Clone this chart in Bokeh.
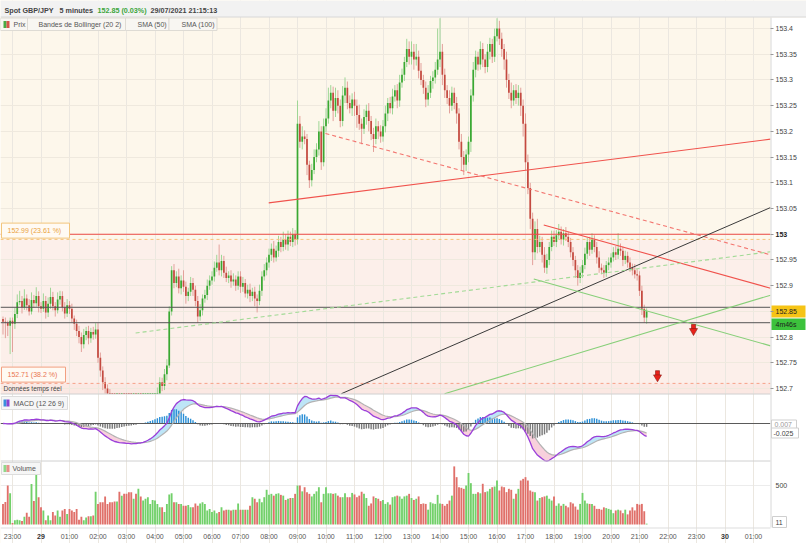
import numpy as np
import pandas as pd
from bokeh.plotting import figure
from bokeh.models import Range1d, FixedTicker
from bokeh.core.properties import value
from bokeh.embed import file_html
from bokeh.resources import INLINE

# ------------------------------------------------------------------ data
TITLE_PARTS = ["Spot GBP/JPY", "5 minutes", "152.85 (0.03%)", "29/07/2021 21:15:13"]
PRICE_LEGEND = ["Prix", "Bandes de Bollinger (20 2)", "SMA (50)", "SMA (100)"]
MACD_LEGEND = "MACD (12 26 9)"
VOLUME_LEGEND = "Volume"
REALTIME_NOTE = "Données temps réel"
COUNTDOWN = "4m46s"
MACD_VALUE_TEXTS = ["0.007", "-0.025"]

FIRST_BAR_HOUR = -1 / 3      # 22:40 on 28/07, in hours after 23:00
BAR_HOURS = 5 / 60
OPEN_FIRST = 152.835

CLOSES = [
    152.830, 152.828, 152.822, 152.832,
    152.826, 152.845, 152.868, 152.870, 152.858, 152.875, 152.862, 152.850, 152.872, 152.866, 152.880, 152.860,
    152.855, 152.870, 152.848, 152.865, 152.878, 152.860, 152.852, 152.873, 152.880, 152.858, 152.846, 152.862,
    152.855, 152.836, 152.826, 152.812, 152.800, 152.786, 152.804, 152.812, 152.798, 152.810, 152.805, 152.815,
    152.760, 152.735, 152.712, 152.700, 152.690, 152.678, 152.668, 152.660, 152.665, 152.650, 152.655, 152.645,
    152.635, 152.628, 152.615, 152.622, 152.610, 152.618, 152.605, 152.612, 152.620, 152.628, 152.635, 152.648,
    152.665, 152.690, 152.712, 152.705, 152.728, 152.745, 152.850, 152.930, 152.905, 152.918, 152.895, 152.910,
    152.898, 152.880, 152.888, 152.905, 152.892, 152.870, 152.840, 152.852, 152.875, 152.882, 152.900, 152.910,
    152.918, 152.935, 152.945, 152.930, 152.948, 152.925, 152.915, 152.920, 152.908, 152.912, 152.900, 152.918,
    152.898, 152.905, 152.885, 152.892, 152.880, 152.888, 152.875, 152.870, 152.890, 152.918, 152.930, 152.945,
    152.960, 152.972, 152.955, 152.968, 152.985, 152.975, 152.990, 152.980, 152.995, 152.985, 153.000, 152.990,
    153.215, 153.180, 153.190, 153.185, 153.135, 153.105, 153.125, 153.150, 153.165, 153.200, 153.140, 153.210,
    153.225, 153.260, 153.275, 153.240, 153.265, 153.250, 153.220, 153.270, 153.285, 153.255, 153.245, 153.262,
    153.250, 153.232, 153.215, 153.205, 153.228, 153.240, 153.220, 153.195, 153.185, 153.210, 153.200, 153.190,
    153.210, 153.235, 153.255, 153.245, 153.268, 153.280, 153.260, 153.295, 153.310, 153.335, 153.360, 153.345,
    153.355, 153.340, 153.345, 153.318, 153.300, 153.285, 153.262, 153.275, 153.298, 153.305, 153.320, 153.340,
    153.355, 153.310, 153.280, 153.265, 153.250, 153.275, 153.255, 153.235, 153.180, 153.150, 153.135, 153.155,
    153.180, 153.270, 153.320, 153.345, 153.330, 153.360, 153.340, 153.325, 153.355, 153.370, 153.345, 153.385,
    153.400, 153.380, 153.360, 153.340, 153.300, 153.275, 153.260, 153.280, 153.265, 153.275, 153.250, 153.215,
    153.140, 153.090, 153.030, 152.965, 153.010, 152.975, 152.985, 152.960, 152.935, 152.950, 152.975, 152.995,
    152.985, 152.998, 153.005, 152.990, 153.002, 152.995, 152.985, 152.965, 152.950, 152.930, 152.915, 152.925,
    152.940, 152.962, 152.985, 152.970, 152.990, 152.975, 152.955, 152.935, 152.930, 152.925, 152.940, 152.945,
    152.955, 152.965, 152.960, 152.972, 152.968, 152.950, 152.958, 152.945, 152.935, 152.930, 152.922, 152.920,
    152.890, 152.855, 152.838, 152.850,
]

# wick lengths above / below the candle body, in thousandths of a yen
WICK_UP = [
    5, 8, 4, 6,
    6, 12, 15, 20, 10, 18, 8, 12, 15, 10, 17, 9,
    8, 15, 10, 12, 18, 10, 8, 14, 10, 9, 10, 12,
    8, 10, 6, 8, 10, 9, 12, 8, 10, 8, 10, 12,
    12, 10, 8, 10, 8, 9, 10, 8, 10, 8, 9, 10,
    10, 8, 9, 10, 8, 10, 9, 8, 10, 9, 8, 10,
    8, 12, 10, 9, 10, 12, 10, 8, 12, 10, 15, 10,
    20, 10, 8, 12, 10, 8, 10, 12, 8, 10, 12, 10,
    10, 12, 15, 35, 12, 10, 12, 8, 10, 12, 8, 10,
    10, 12, 8, 10, 12, 8, 10, 8, 12, 10, 12, 10,
    12, 10, 15, 10, 12, 10, 15, 10, 12, 10, 12, 8,
    45, 15, 20, 12, 10, 8, 12, 15, 12, 20, 10, 15,
    20, 25, 15, 12, 20, 15, 12, 18, 20, 12, 15, 12,
    15, 12, 20, 10, 15, 12, 15, 10, 12, 15, 10, 12,
    12, 15, 10, 12, 15, 10, 12, 15, 12, 10, 20, 15,
    20, 15, 25, 12, 15, 10, 12, 15, 10, 12, 15, 60,
    65, 15, 12, 10, 15, 12, 10, 12, 10, 15, 12, 10,
    10, 12, 15, 12, 10, 15, 12, 10, 15, 12, 10, 15,
    20, 15, 12, 10, 15, 12, 20, 10, 12, 15, 10, 12,
    20, 15, 10, 12, 15, 20, 12, 10, 15, 12, 10, 12,
    12, 10, 15, 10, 8, 12, 10, 8, 10, 8, 10, 12,
    10, 12, 8, 10, 12, 8, 10, 12, 8, 10, 8, 10,
    8, 10, 12, 30, 10, 8, 10, 8, 10, 8, 12, 10,
    8, 10, 8, 6,
]
WICK_DN = [
    25, 30, 20, 55,
    55, 10, 8, 6, 12, 5, 10, 8, 6, 9, 7, 12,
    8, 6, 12, 9, 10, 8, 12, 6, 10, 8, 10, 7,
    10, 8, 12, 10, 12, 15, 8, 10, 12, 9, 10, 8,
    10, 12, 15, 10, 12, 10, 8, 10, 12, 10, 8, 9,
    9, 10, 8, 10, 12, 9, 10, 8, 9, 10, 8, 10,
    10, 8, 12, 10, 8, 12, 5, 8, 10, 8, 10, 12,
    10, 15, 10, 8, 12, 10, 12, 8, 10, 8, 10, 8,
    8, 10, 8, 10, 12, 10, 8, 10, 12, 8, 10, 8,
    12, 10, 8, 10, 12, 10, 15, 22, 8, 10, 8, 10,
    10, 12, 10, 8, 12, 10, 8, 10, 12, 8, 10, 12,
    10, 12, 15, 10, 20, 15, 12, 8, 10, 12, 15, 8,
    12, 10, 15, 20, 12, 15, 12, 10, 15, 12, 10, 15,
    20, 25, 12, 30, 10, 15, 20, 12, 25, 10, 15, 12,
    10, 12, 15, 10, 12, 10, 15, 12, 10, 12, 10, 15,
    15, 20, 12, 15, 10, 12, 15, 12, 10, 15, 12, 10,
    15, 20, 15, 12, 15, 10, 12, 20, 15, 25, 20, 12,
    15, 20, 12, 15, 12, 10, 15, 12, 10, 15, 12, 10,
    10, 12, 15, 20, 15, 12, 15, 10, 12, 15, 20, 25,
    15, 12, 20, 25, 15, 12, 10, 15, 10, 12, 10, 8,
    8, 10, 8, 10, 12, 8, 10, 10, 12, 15, 15, 10,
    10, 8, 10, 12, 8, 10, 12, 10, 8, 10, 8, 10,
    10, 8, 10, 8, 10, 12, 8, 10, 8, 10, 8, 10,
    10, 12, 10, 12,
]

VOLUMES = [
    264, 290, 500, 400, 20, 55, 60, 55, 45, 100, 150, 100,
    520, 300, 650, 350, 220, 180, 55, 115, 55, 160, 115, 180,
    100, 180, 200, 136, 200, 180, 160, 200, 60, 100, 55, 90,
    105, 105, 115, 420, 264, 285, 285, 360, 264, 285, 285, 295,
    295, 420, 370, 393, 393, 415, 415, 330, 393, 457, 360, 307,
    330, 350, 264, 315,
    307, 264, 220, 220, 160, 264, 385, 400, 285, 285,
    264, 264, 240, 240, 250, 220, 220, 270, 240, 270,
    285, 264, 180, 200, 160, 180, 145, 160, 220, 180,
    190, 190, 180, 190, 190, 270, 190, 190, 190, 190,
    240, 350, 330, 285, 330, 285, 350, 445, 380, 393,
    370, 393, 400, 380, 370, 315, 330, 340, 340, 393,
    500, 500, 425, 478, 415, 393, 360, 393, 425, 478,
    285, 393, 478, 400, 400, 393, 400, 370, 350, 350,
    400, 350, 350, 405, 385, 350, 370, 420, 393, 340,
    240, 270, 360, 340, 330, 300, 315, 264, 285, 255,
    350, 360, 370, 360,
    330, 360, 370, 393, 340, 315, 330, 360, 264, 270, 264, 190,
    285, 270, 264, 380, 270, 264, 240, 264, 307, 370,
    745, 607, 478, 470, 457, 500, 660, 530, 393, 393, 415, 400,
    522, 415, 425, 457, 478, 487,
    564, 436, 487, 478, 415, 457, 445, 330, 393, 457, 564, 585,
    607, 564, 436, 420, 415, 307, 340, 350, 360, 370, 330, 307,
    360, 240, 270, 240, 264, 240, 220, 285, 270, 230, 190, 264,
    405, 307, 270, 264, 264, 240, 200, 200, 190, 220, 210, 200,
    190, 145, 180, 190, 180, 145, 190, 130, 180, 220, 180, 264,
    255, 264, 170, 11,
]

HOUR_TICKS = list(range(27))
HOUR_LABELS = ["23:00", "29", "01:00", "02:00", "03:00", "04:00", "05:00", "06:00", "07:00",
               "08:00", "09:00", "10:00", "11:00", "12:00", "13:00", "14:00", "15:00", "16:00",
               "17:00", "18:00", "19:00", "20:00", "21:00", "22:00", "23:00", "30", "01:00"]
DAY_LABELS = ["29", "30"]
PRICE_TICKS = [152.7, 152.75, 152.8, 152.85, 152.9, 152.95, 153.0, 153.05,
               153.1, 153.15, 153.2, 153.25, 153.3, 153.35, 153.4]
BOLD_PRICE = 153.0
VOLUME_TICK = 500

FIB_LEVELS = [152.99, 152.71]
FIB_PCTS = ["23.61 %", "38.2 %"]
RESISTANCE = 153.00
SUPPORTS = [152.858, 152.828]

# trend lines: start (hour, price) -> end (hour, price)
RED_X0 = [8.99, 18.64]
RED_Y0 = [153.061, 153.018]
RED_X1 = [26.6, 26.6]
RED_Y1 = [153.185, 152.895]
RED_DASH_X = [10.98, 26.6]
RED_DASH_Y = [153.196, 152.960]
BLACK_X = [11.54, 26.6]
BLACK_Y = [152.690, 153.052]
GREEN_X0 = [18.29, 15.16]
GREEN_Y0 = [152.913, 152.690]
GREEN_X1 = [26.6, 26.6]
GREEN_Y1 = [152.783, 152.8815]
GREEN_DASH_X = [4.32, 26.6]
GREEN_DASH_Y = [152.808, 152.966]
ARROW_X = [23.895, 22.632]
ARROW_Y = [152.815, 152.725]

# ------------------------------------------------------------------ layout
W, H = 806, 543
PLOT_R, PLOT_B = 770, 527          # right edge of the panes, bottom of the volume pane
X_ORIGIN = 12.0
PX_PER_HOUR = 28.5
PRICE_REF, PRICE_REF_Y, PX_PER_YEN = 152.85, 310.9, 514.3
PANE_TOP, PRICE_BOTTOM, MACD_BOTTOM = 17.0, 393.5, 460.5
MACD_ZERO_Y, MACD_PX = 423.0, 400.0
VOL_ZERO_Y, VOL_PX = 524.0, 0.078
FONT = "Liberation Sans"


def price_at(y):
    return PRICE_REF - (y - PRICE_REF_Y) / PX_PER_YEN


def px(v):
    return v / PX_PER_YEN


n = len(CLOSES)
assert len(WICK_UP) == n and len(WICK_DN) == n and len(VOLUMES) == n

xs = np.array([FIRST_BAR_HOUR + i * BAR_HOURS for i in range(n)])
closes = np.array(CLOSES)
opens = np.concatenate([[OPEN_FIRST], closes[:-1]])
highs = np.maximum(opens, closes) + np.array(WICK_UP) / 1000.0
lows = np.minimum(opens, closes) - np.array(WICK_DN) / 1000.0
rising = closes >= opens

p = figure(width=W, height=H,
           x_range=Range1d(-X_ORIGIN / PX_PER_HOUR, (W - X_ORIGIN) / PX_PER_HOUR),
           y_range=Range1d(price_at(H), price_at(0)),
           output_backend="svg", toolbar_location=None, y_axis_location="right",
           min_border=0, min_border_left=0, min_border_top=0, min_border_right=0, min_border_bottom=0,
           background_fill_color="#fdf7eb", border_fill_color="white", outline_line_color=None)
p.extra_x_ranges = {"px": Range1d(0, W)}
p.extra_y_ranges = {
    "px": Range1d(H, 0),
    "macd": Range1d(-(H - MACD_ZERO_Y) / MACD_PX, MACD_ZERO_Y / MACD_PX),
    "vol": Range1d(-(H - VOL_ZERO_Y) / VOL_PX, VOL_ZERO_Y / VOL_PX),
}
PXR = dict(x_range_name="px", y_range_name="px")

# axes, drawn inside the canvas at the pane edges
xa = p.xaxis[0]
xa.fixed_location = price_at(PLOT_B)
xa.ticker = FixedTicker(ticks=HOUR_TICKS)
xa.major_label_overrides = {k: ("" if lab in DAY_LABELS else lab) for k, lab in zip(HOUR_TICKS, HOUR_LABELS)}
xa.major_label_text_font = FONT
xa.major_label_text_font_size = "7px"
xa.major_label_text_color = "#555555"
xa.major_tick_out = 0
xa.major_tick_in = 0
xa.minor_tick_out = 0
xa.minor_tick_in = 0
xa.major_label_standoff = 5
xa.axis_line_color = None

ya = p.yaxis[0]
ya.fixed_location = (PLOT_R - X_ORIGIN) / PX_PER_HOUR
ya.ticker = FixedTicker(ticks=PRICE_TICKS)
ya.major_label_overrides = {t: ("" if t in (BOLD_PRICE, CLOSES[-1]) else f"{t:.2f}".rstrip("0").rstrip("."))
                            for t in PRICE_TICKS}
ya.major_label_text_font = FONT
ya.major_label_text_font_size = "7px"
ya.major_label_text_color = "#444444"
ya.major_tick_out = 3
ya.major_tick_in = 0
ya.minor_tick_out = 0
ya.minor_tick_in = 0
ya.major_tick_line_color = "#999999"
ya.major_label_standoff = 2
ya.axis_line_color = None

p.xgrid.ticker = FixedTicker(ticks=HOUR_TICKS)
p.xgrid.grid_line_color = "#ebe7e0"
p.ygrid.ticker = FixedTicker(ticks=PRICE_TICKS)
p.ygrid.grid_line_color = "#efe9de"

# pane backgrounds
p.quad(left=[0], right=[PLOT_R], bottom=[price_at(PRICE_BOTTOM)], top=[FIB_LEVELS[0]],
       x_range_name="px", fill_color="#fcefea", line_color=None, level="image")
p.quad(left=[0], right=[PLOT_R], bottom=[price_at(PRICE_BOTTOM)], top=[FIB_LEVELS[1]],
       x_range_name="px", fill_color="#fbe8e3", line_color=None, level="image")
p.quad(left=[0], right=[W], top=[PRICE_BOTTOM], bottom=[H], fill_color="white",
       line_color=None, level="image", **PXR)
p.segment(x0=[0], x1=[PLOT_R], y0=[VOLUME_TICK], y1=[VOLUME_TICK], x_range_name="px",
          y_range_name="vol", line_color="#ececec", line_width=1, level="underlay")

# candles
floor = price_at(PRICE_BOTTOM)
vis = highs > floor
wick_col = np.where(rising, "#9fd696", "#e3a19b")
body_col = np.where(rising, "#3aa832", "#c44a40")
body_top = np.maximum(opens, closes)
body_bot = np.maximum(np.minimum(opens, closes), floor)
body_top = np.maximum(body_top, body_bot + px(1.0))
p.segment(x0=xs[vis], y0=np.maximum(lows, floor)[vis], x1=xs[vis], y1=highs[vis],
          line_color=wick_col[vis], line_width=1)
bvis = body_top > floor
p.vbar(x=xs[bvis], width=BAR_HOURS * 0.72, top=body_top[bvis], bottom=body_bot[bvis],
       fill_color=body_col[bvis], line_color=None)

# horizontal levels
def hline(level, **kw):
    p.segment(x0=[0], x1=[PLOT_R], y0=[level], y1=[level], x_range_name="px", **kw)


hline(RESISTANCE, line_color="#ee4b45", line_width=1)
hline(FIB_LEVELS[0], line_color="#f7c27a", line_width=1, line_dash="3 3")
hline(FIB_LEVELS[1], line_color="#f6a188", line_width=1, line_dash="3 3")
for s in SUPPORTS:
    hline(s, line_color="#555555", line_width=1)

# trend lines
p.segment(x0=RED_X0, y0=RED_Y0, x1=RED_X1, y1=RED_Y1, line_color="#f0524c", line_width=1.1)
p.line(x=RED_DASH_X, y=RED_DASH_Y, line_color="#f37670", line_width=1.1, line_dash="4 3")
p.line(x=BLACK_X, y=BLACK_Y, line_color="#3a3a3a", line_width=1)
p.segment(x0=GREEN_X0, y0=GREEN_Y0, x1=GREEN_X1, y1=GREEN_Y1, line_color="#86cf78", line_width=1.1)
p.line(x=GREEN_DASH_X, y=GREEN_DASH_Y, line_color="#a2da96", line_width=1.1, line_dash="4 3")

# arrows
p.rect(x=ARROW_X, y=[a + px(2.5) for a in ARROW_Y], width=4, height=5, width_units="screen",
       height_units="screen", fill_color="#e8221a", line_color="#8a1a12", line_width=0.6)
p.scatter(x=ARROW_X, y=[a - px(1.5) for a in ARROW_Y], marker="inverted_triangle", size=8,
          fill_color="#e8221a", line_color="#8a1a12", line_width=0.6)

# fib labels
for lvl, pct, border, tcol, wbox in zip(FIB_LEVELS, FIB_PCTS, ["#f2c57c", "#f2a080"],
                                          ["#eaa23e", "#ea7650"], [68, 64]):
    p.quad(left=[1], right=[1 + wbox], bottom=[lvl + px(1.3)], top=[lvl + px(16.3)],
           x_range_name="px", fill_color="#fffaf3", line_color=border, line_width=1)
    p.text(x=[7], y=[lvl + px(8.8)], text=[f"{lvl:.2f} ({pct})"], x_range_name="px",
           text_font=value(FONT), text_font_size="7px", text_color=tcol, text_baseline="middle")

p.text(x=[3], y=[387.5], text=[REALTIME_NOTE], text_font=value(FONT), text_font_size="6.5px",
       text_color="#444444", text_baseline="middle", **PXR)

# ---------------- MACD pane
cl = pd.Series(CLOSES)
macd = (cl.ewm(span=12, adjust=False).mean() - cl.ewm(span=26, adjust=False).mean()).to_numpy()
signal = pd.Series(macd).ewm(span=9, adjust=False).mean().to_numpy()
hist = macd - signal
p.varea(x=xs, y1=signal, y2=np.maximum(macd, signal), fill_color="#bde5f7", y_range_name="macd")
p.varea(x=xs, y1=np.minimum(macd, signal), y2=signal, fill_color="#f8d0dc", y_range_name="macd")
p.vbar(x=xs, width=BAR_HOURS * 0.6, top=hist, bottom=0,
       fill_color=np.where(hist >= 0, "#2a8fd6", "#7a7a7a"), line_color=None, y_range_name="macd")
p.segment(x0=[0], x1=[PLOT_R], y0=[0], y1=[0], x_range_name="px", y_range_name="macd",
          line_color="#5a5a5a", line_width=1)
p.line(x=xs, y=signal, line_color="#b3b3b3", line_width=1.2, y_range_name="macd")
p.line(x=xs, y=macd, line_color="#9b3fd9", line_width=1.3, y_range_name="macd")

# ---------------- volume pane
p.vbar(x=xs, width=BAR_HOURS * 0.78, top=VOLUMES, bottom=0,
       fill_color=np.where(rising, "#72d06a", "#e0706a"), line_color=None, y_range_name="vol")

# pane separators, right-hand column and header
p.quad(left=[PLOT_R], right=[W], top=[PANE_TOP], bottom=[H], fill_color="white", line_color=None, **PXR)
p.segment(x0=[0, 0, 0], x1=[PLOT_R, PLOT_R, PLOT_R], y0=[PRICE_BOTTOM, MACD_BOTTOM, PLOT_B + 0.5],
          y1=[PRICE_BOTTOM, MACD_BOTTOM, PLOT_B + 0.5], line_color=["#d0d0d0", "#d0d0d0", "#dddddd"],
          line_width=1, **PXR)
p.segment(x0=[PLOT_R + 0.5], x1=[PLOT_R + 0.5], y0=[PANE_TOP], y1=[PLOT_B], line_color="#d8d8d8", **PXR)
p.quad(left=[0], right=[W], top=[0], bottom=[16.5], fill_color="#f2f2f2", line_color=None, **PXR)
p.segment(x0=[0], x1=[W], y0=[16.5], y1=[16.5], line_color="#d8d8d8", **PXR)
p.text(x=[4, 59, 97, 150], y=[9.5] * 4, text=TITLE_PARTS, text_font=value(FONT),
       text_font_size="7.2px", text_font_style="bold",
       text_color=["#444444", "#444444", "#3ba53b", "#444444"], text_baseline="middle", **PXR)

# legend tabs
tab_l = [0, 27, 125, 168.5]
tab_r = [27, 125, 168.5, 216.5]
p.quad(left=tab_l, right=tab_r, top=[17.5] * 4, bottom=[30] * 4, fill_color="#f8f6f2",
       line_color="#dedbd4", line_width=1, **PXR)
p.text(x=[13, 38, 137, 181], y=[24] * 4, text=PRICE_LEGEND, text_font=value(FONT),
       text_font_size="7px", text_color="#555555", text_baseline="middle", **PXR)
p.quad(left=[1], right=[67], top=[396], bottom=[409], fill_color="#f6f6f6",
       line_color="#dddddd", **PXR)
p.text(x=[13], y=[402.5], text=[MACD_LEGEND], text_font=value(FONT), text_font_size="7px",
       text_color="#555555", text_baseline="middle", **PXR)
p.quad(left=[1], right=[40], top=[462], bottom=[474], fill_color="#f6f6f6",
       line_color="#dddddd", **PXR)
p.text(x=[12], y=[468], text=[VOLUME_LEGEND], text_font=value(FONT), text_font_size="7px",
       text_color="#555555", text_baseline="middle", **PXR)
p.quad(left=[3, 6, 3, 6, 3, 6], right=[6, 9, 6, 9, 6, 9],
       top=[20.5, 20.5, 399, 399, 464.5, 464.5], bottom=[27.5, 27.5, 406, 406, 471.5, 471.5],
       fill_color=["#4aa944", "#d6524a", "#3a8fdc", "#8c44d0", "#8fd88a", "#e8908a"],
       line_color=None, **PXR)

# ---------------- right-hand value boxes and bold labels
p.text(x=[PLOT_R + 5], y=[BOLD_PRICE], text=[f"{BOLD_PRICE:g}"], x_range_name="px",
       text_font=value(FONT), text_font_size="7px", text_font_style="bold",
       text_color="#222222", text_baseline="middle")
p.quad(left=[PLOT_R + 1], right=[W - 1], bottom=[CLOSES[-1] - px(6)], top=[CLOSES[-1] + px(6)],
       x_range_name="px", fill_color="#f6c416", line_color=None)
p.text(x=[PLOT_R + 5], y=[CLOSES[-1]], text=[f"{CLOSES[-1]:.2f}"], x_range_name="px",
       text_font=value(FONT), text_font_size="7px", text_color="#222222", text_baseline="middle")
p.quad(left=[PLOT_R + 1], right=[W - 1], top=[318], bottom=[329.5], fill_color="#3cc23c",
       line_color=None, **PXR)
p.text(x=[PLOT_R + 5], y=[323.8], text=[COUNTDOWN], text_font=value(FONT), text_font_size="7px",
       text_color="#1e1e1e", text_baseline="middle", **PXR)
p.quad(left=[PLOT_R + 1, PLOT_R + 1], right=[PLOT_R + 26, PLOT_R + 28], top=[419.5, 427.5],
       bottom=[428.5, 437.5], fill_color="white", line_color="#cfcfcf", **PXR)
p.text(x=[PLOT_R + 4, PLOT_R + 3], y=[424.2, 432.5], text=MACD_VALUE_TEXTS, text_font=value(FONT),
       text_font_size="7px", text_color=["#999999", "#444444"], text_baseline="middle", **PXR)
p.text(x=[PLOT_R + 5], y=[VOLUME_TICK], text=[str(VOLUME_TICK)], x_range_name="px", y_range_name="vol",
       text_font=value(FONT), text_font_size="7px", text_color="#444444", text_baseline="middle")
p.quad(left=[PLOT_R + 2], right=[PLOT_R + 16], top=[516], bottom=[527], fill_color="white",
       line_color="#cfcfcf", **PXR)
p.text(x=[PLOT_R + 5], y=[521.5], text=[str(VOLUMES[-1])], text_font=value(FONT),
       text_font_size="7px", text_color="#444444", text_baseline="middle", **PXR)
day_x = [k for k, lab in zip(HOUR_TICKS, HOUR_LABELS) if lab in DAY_LABELS]
p.text(x=day_x, y=[536] * len(day_x), text=DAY_LABELS, y_range_name="px", text_font=value(FONT),
       text_font_size="7px", text_font_style="bold", text_color="#333333",
       text_align="center", text_baseline="middle")

open("out.html", "w").write(file_html(p, INLINE))
